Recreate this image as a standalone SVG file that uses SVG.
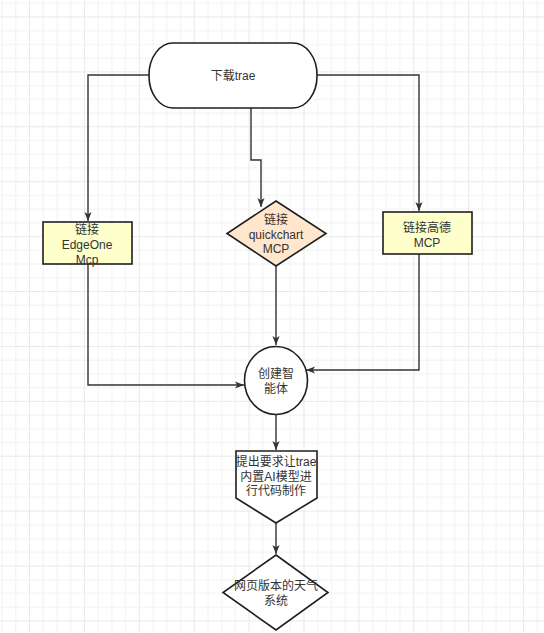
<svg xmlns="http://www.w3.org/2000/svg" width="544" height="633" viewBox="0 0 544 633">
  <style>
    .node { stroke: #1f1f1f; stroke-width: 1.6; }
    .lbl { font-family: "Liberation Sans", "Noto Sans CJK SC", sans-serif; font-size: 12px; fill: #333333; text-anchor: middle; }
    .edge { fill: none; stroke: #333333; stroke-width: 1.4; }
  </style>
  <defs>
    <pattern id="grid" x="29" y="16.5" width="54.9" height="54.9" patternUnits="userSpaceOnUse">
      <rect x="0" y="0" width="54.9" height="54.9" fill="#ffffff"/>
      <rect x="13.725" y="0" width="1" height="54.9" fill="#f2f2f2"/>
      <rect x="27.45" y="0" width="1" height="54.9" fill="#f2f2f2"/>
      <rect x="41.175" y="0" width="1" height="54.9" fill="#f2f2f2"/>
      <rect x="0" y="13.725" width="54.9" height="1" fill="#f2f2f2"/>
      <rect x="0" y="27.45" width="54.9" height="1" fill="#f2f2f2"/>
      <rect x="0" y="41.175" width="54.9" height="1" fill="#f2f2f2"/>
      <rect x="0" y="0" width="1" height="54.9" fill="#e9e9e9"/>
      <rect x="0" y="0" width="54.9" height="1" fill="#e9e9e9"/>
    </pattern>
    <marker id="arr" viewBox="0 0 10 8" refX="10" refY="4" markerWidth="9" markerHeight="7.5" markerUnits="userSpaceOnUse" orient="auto">
      <path d="M0,0 L10,4 L0,8 L2.5,4 z" fill="#333333"/>
    </marker>
  </defs>
  <rect x="0" y="0" width="544" height="633" fill="url(#grid)"/>

  <g id="connectors">
    <path class="edge" d="M149,75 H88 V221" marker-end="url(#arr)"/>
    <path class="edge" d="M317,75 H419 V211" marker-end="url(#arr)"/>
    <path class="edge" d="M251,108 V160 H261 V207" marker-end="url(#arr)"/>
    <path class="edge" d="M276,266 V345" marker-end="url(#arr)"/>
    <path class="edge" d="M88,264 V385 H244" marker-end="url(#arr)"/>
    <path class="edge" d="M419,254 V370 H306" marker-end="url(#arr)"/>
    <path class="edge" d="M276,415 V450" marker-end="url(#arr)"/>
    <path class="edge" d="M276,523 V554" marker-end="url(#arr)"/>
  </g>

  <g id="node-download">
    <rect class="node" x="149" y="43" width="168" height="65" rx="24" ry="32" fill="#ffffff"/>
    <text class="lbl" x="233" y="80">下载trae</text>
  </g>

  <g id="node-edgeone">
    <rect class="node" x="43" y="222" width="89" height="42" fill="#ffffcc"/>
    <text class="lbl" x="87" y="233.5">链接</text>
    <text class="lbl" x="87" y="248.5">EdgeOne</text>
    <text class="lbl" x="87" y="263.5">Mcp</text>
  </g>

  <g id="node-quickchart">
    <polygon class="node" points="276,201 326,233.5 276,266 227,233.5" fill="#ffe6cc"/>
    <text class="lbl" x="276" y="224">链接</text>
    <text class="lbl" x="276" y="238.5">quickchart</text>
    <text class="lbl" x="276" y="253">MCP</text>
  </g>

  <g id="node-gaode">
    <rect class="node" x="383" y="212" width="89" height="42" fill="#ffffcc"/>
    <text class="lbl" x="427" y="232">链接高德</text>
    <text class="lbl" x="427" y="246.5">MCP</text>
  </g>

  <g id="node-agent">
    <ellipse class="node" cx="276" cy="380.5" rx="31.5" ry="34" fill="#ffffff"/>
    <text class="lbl" x="276" y="377.5">创建智</text>
    <text class="lbl" x="276" y="392.5">能体</text>
  </g>

  <g id="node-request">
    <polygon class="node" points="236,451 317,451 317,498 276,523 236,498" fill="#ffffff"/>
    <text class="lbl" x="276" y="466">提出要求让trae</text>
    <text class="lbl" x="276" y="480.5">内置AI模型进</text>
    <text class="lbl" x="276" y="495">行代码制作</text>
  </g>

  <g id="node-weather">
    <polygon class="node" points="276,555 328,592.5 276,630 223,592.5" fill="#ffffff"/>
    <text class="lbl" x="276" y="590">网页版本的天气</text>
    <text class="lbl" x="276" y="605">系统</text>
  </g>
</svg>
